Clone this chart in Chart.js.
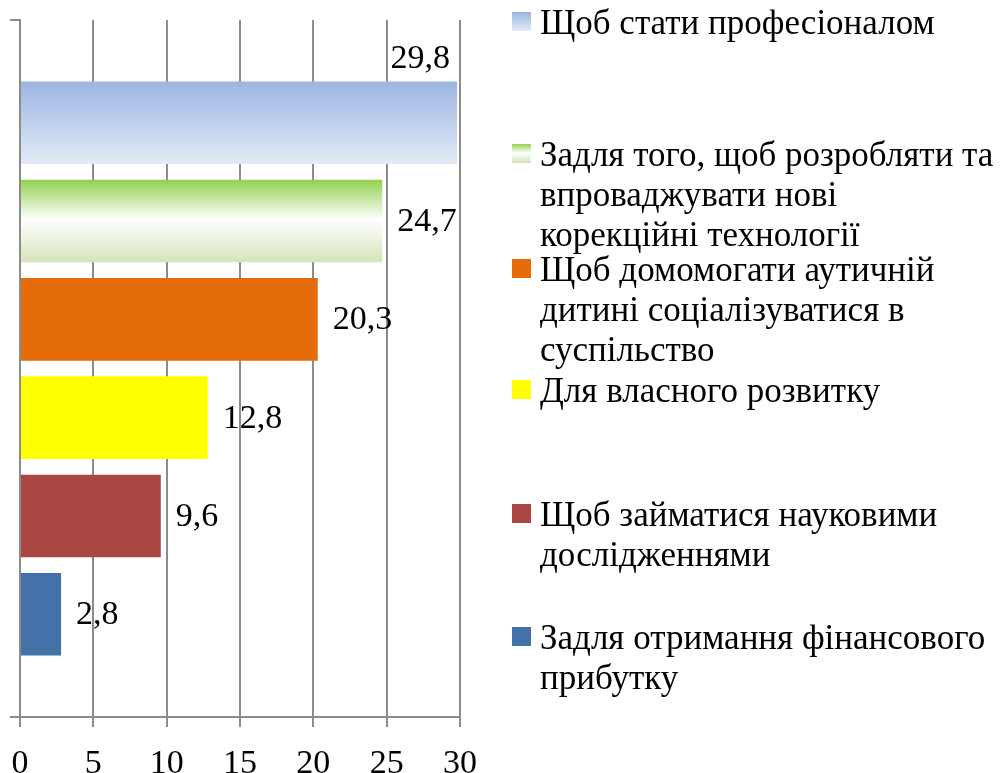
<!DOCTYPE html>
<html>
<head>
<meta charset="utf-8">
<script src="https://cdn.jsdelivr.net/npm/chart.js@4.4.1/dist/chart.umd.min.js"></script>
<style>
  html, body { margin: 0; padding: 0; background: #fff; }
  #wrap { position: relative; width: 1008px; height: 773px; overflow: hidden; }
  #c { position: absolute; left: 0; top: 0; }
  #legend { position: absolute; left: 0; top: 0; width: 1008px; height: 773px; pointer-events: none;
            font-family: "Liberation Serif", "Times New Roman", serif; font-size: 35px; line-height: 40px; color: #000; }
  .item { position: absolute; left: 540px; white-space: nowrap; }
  .mk { position: absolute; width: 19px; height: 19px; left: -28px; top: 9px; }
</style>
</head>
<body>
<div id="wrap">
  <canvas id="c" width="1008" height="773"></canvas>
  <div id="legend"></div>
</div>
<script>
// ---- data ----
const categories = [""];
const seriesNames = [
  ["Щоб стати професіоналом"],
  ["Задля того, щоб розробляти та", "впроваджувати нові", "корекційні технології"],
  ["Щоб домомогати аутичній", "дитині соціалізуватися в", "суспільство"],
  ["Для власного розвитку"],
  ["Щоб займатися науковими", "дослідженнями"],
  ["Задля отримання фінансового", "прибутку"]
];
const seriesValues = [29.8, 24.7, 20.3, 12.8, 9.6, 2.8];
const xTicks = [0, 5, 10, 15, 20, 25, 30];

// ---- styles ----
const fills = [
  { grad: [[0, "#9AB5E2"], [1, "#E4EAF6"]] },
  { grad: [[0, "#92D050"], [0.48, "#FFFFFF"], [1, "#D5E3BA"]] },
  { solid: "#E46C0A" },
  { solid: "#FFFF00" },
  { solid: "#AA4643" },
  { solid: "#4472A8" }
];
const legendTops = [3, 135, 250, 371, 495, 618];
const gridColor = "#8C8C8C";
const FONT = "Liberation Serif";

function solidOf(f) { return f.solid || f.grad[0][1]; }

const datasets = seriesNames.map((n, i) => ({
  label: n.join(" "),
  data: [seriesValues[i]],
  backgroundColor: solidOf(fills[i]),
  borderWidth: 0,
  categoryPercentage: 0.846,
  barPercentage: 0.84
}));

const gradientPlugin = {
  id: "grad",
  beforeDatasetsDraw(chart) {
    const ctx = chart.ctx;
    chart.data.datasets.forEach((ds, i) => {
      const f = fills[i];
      if (!f.grad) return;
      const meta = chart.getDatasetMeta(i);
      meta.data.forEach(el => {
        const p = el.getProps(["y", "height"], true);
        const g = ctx.createLinearGradient(0, p.y - p.height / 2, 0, p.y + p.height / 2);
        f.grad.forEach(s => g.addColorStop(s[0], s[1]));
        el.options.backgroundColor = g;
      });
    });
  }
};

const labelPlugin = {
  id: "vals",
  afterDatasetsDraw(chart) {
    const ctx = chart.ctx;
    const area = chart.chartArea;
    ctx.save();
    ctx.font = "34px '" + FONT + "'";
    ctx.fillStyle = "#000";
    ctx.textBaseline = "middle";
    chart.data.datasets.forEach((ds, i) => {
      const meta = chart.getDatasetMeta(i);
      meta.data.forEach((el, j) => {
        const v = ds.data[j];
        const txt = String(v).replace(".", ",");
        const p = el.getProps(["x", "y", "height"], true);
        const w = ctx.measureText(txt).width;
        if (p.x + 15 + w > area.right + 8) {
          ctx.textAlign = "right";
          ctx.fillText(txt, p.x - 7, p.y - p.height / 2 - 22);
        } else {
          ctx.textAlign = "left";
          ctx.fillText(txt, p.x + 15, p.y + 1);
        }
      });
    });
    ctx.restore();
  }
};

new Chart(document.getElementById("c"), {
  type: "bar",
  data: { labels: categories, datasets },
  options: {
    indexAxis: "y",
    responsive: false,
    animation: false,
    events: [],
    layout: { padding: { left: 0, right: 548, top: 20, bottom: 0 } },
    plugins: { legend: { display: false }, tooltip: { enabled: false } },
    scales: {
      x: {
        min: xTicks[0], max: xTicks[xTicks.length - 1],
        afterBuildTicks(s) { s.ticks = xTicks.map(v => ({ value: v })); },
        afterFit(s) { s.height = 56; s.paddingLeft = 0; s.paddingRight = 0; },
        grid: { color: gridColor, lineWidth: 2, tickLength: 10, drawTicks: true },
        border: { display: true, color: gridColor, width: 2 },
        ticks: { color: "#000", font: { family: FONT, size: 34 }, padding: 17, maxRotation: 0 }
      },
      y: {
        offset: true,
        afterFit(s) { s.width = 20; },
        grid: { offset: true, drawOnChartArea: false, color: gridColor, lineWidth: 2, tickLength: 10 },
        border: { display: true, color: gridColor, width: 2 },
        ticks: { display: false }
      }
    }
  },
  plugins: [gradientPlugin, labelPlugin]
});

// ---- legend (HTML, real text) ----
const lg = document.getElementById("legend");
seriesNames.forEach((lines, i) => {
  const it = document.createElement("div");
  it.className = "item";
  it.style.top = legendTops[i] + "px";
  const mk = document.createElement("div");
  mk.className = "mk";
  const f = fills[i];
  mk.style.background = f.grad
    ? "linear-gradient(to bottom, " + f.grad.map(s => s[1] + " " + (s[0] * 100) + "%").join(", ") + ")"
    : f.solid;
  it.appendChild(mk);
  lines.forEach((ln, k) => {
    if (k) it.appendChild(document.createElement("br"));
    it.appendChild(document.createTextNode(ln));
  });
  lg.appendChild(it);
});
</script>
</body>
</html>
